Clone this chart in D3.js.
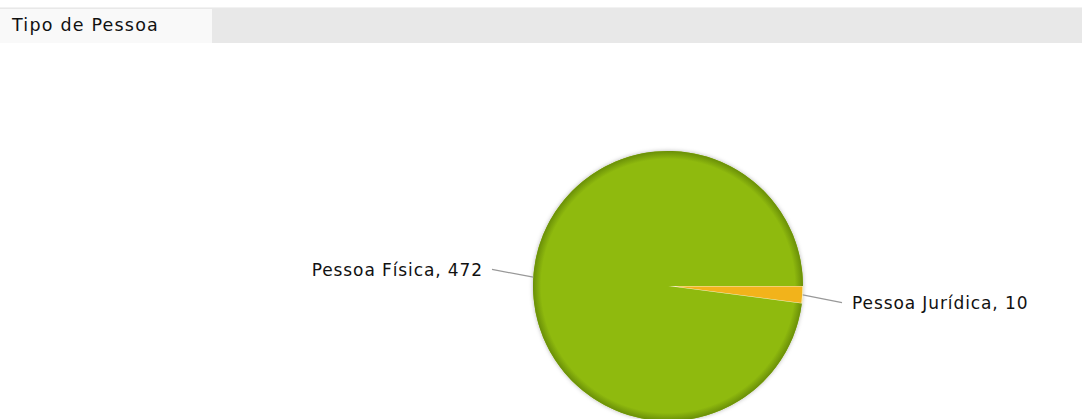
<!DOCTYPE html>
<html>
<head>
<meta charset="utf-8">
<script src="https://cdn.jsdelivr.net/npm/d3@7/dist/d3.min.js"></script>
<style>
  body { margin: 0; background: #fff; }
  svg { display: block; }
</style>
</head>
<body>
<svg id="chart" width="1082" height="419"></svg>
<script>
// data
var tabTitle = "Tipo de Pessoa";
var categories = ["Pessoa Jurídica", "Pessoa Física"];
var values = [10, 472];
var colors = ["#f2b31b", "#8fba0e"];

var svg = d3.select("#chart"),
    width = 1082, height = 419;

// tab strip
svg.append("rect").attr("x", 0).attr("y", 7).attr("width", width).attr("height", 36).attr("fill", "#e8e8e8");
svg.append("rect").attr("x", 0).attr("y", 7).attr("width", width).attr("height", 1).attr("fill", "#f2f2f2");
svg.append("rect").attr("x", 0).attr("y", 9).attr("width", 212).attr("height", 34).attr("fill", "#f9f9f9");
svg.append("text")
    .attr("x", 12).attr("y", 31)
    .attr("font-family", "DejaVu Sans, sans-serif")
    .attr("font-size", 17.5)
    .attr("letter-spacing", 1.2)
    .attr("fill", "#111")
    .text(tabTitle);

var cx = 668, cy = 286, r = 135;

var defs = svg.append("defs");
var grad = defs.append("radialGradient").attr("id", "rim")
    .attr("gradientUnits", "userSpaceOnUse")
    .attr("cx", 0).attr("cy", 0).attr("r", r);
grad.append("stop").attr("offset", "0.94").attr("stop-color", colors[1]);
grad.append("stop").attr("offset", "1").attr("stop-color", "#6a8f08");

var shadow = defs.append("filter").attr("id", "shadow")
    .attr("x", "-20%").attr("y", "-20%").attr("width", "140%").attr("height", "140%");
shadow.append("feDropShadow").attr("dx", 0).attr("dy", 0).attr("stdDeviation", 2)
    .attr("flood-color", "#000").attr("flood-opacity", 0.3);

var pie = d3.pie().sort(null)
    .startAngle(Math.PI / 2).endAngle(Math.PI / 2 + 2 * Math.PI);
var arcs = pie(values);
var arc = d3.arc().innerRadius(0).outerRadius(r);

var g = svg.append("g").attr("transform", "translate(" + cx + "," + cy + ")");

g.append("circle").attr("r", r).attr("fill", colors[1]).attr("filter", "url(#shadow)");

g.selectAll("path.slice")
    .data(arcs)
    .enter()
    .append("path")
    .attr("class", "slice")
    .attr("d", arc)
    .attr("fill", function(d, i){ return i == 1 ? "url(#rim)" : colors[i] })
    .attr("stroke", function(d, i){ return i == 1 ? "none" : "#f6f0c8" })
    .attr("stroke-width", 1.2)
    .attr("stroke-linejoin", "round");

// labels + connectors
arcs.forEach(function(d, i){
    var a = (d.startAngle + d.endAngle) / 2,
        sx = Math.sin(a), sy = -Math.cos(a),
        right = sx > 0,
        ly = (r + 120) * sy,
        lx = right ? r + 49 : -(r + 50),
        ex = right ? r + 39 : -(r + 41);

    g.append("path")
        .attr("d", "M" + (r * sx) + "," + (r * sy) + "L" + ex + "," + ly)
        .attr("fill", "none")
        .attr("stroke", "#999")
        .attr("stroke-width", 1.2);

    g.append("text")
        .attr("x", lx).attr("y", ly)
        .attr("dy", "0.36em")
        .attr("text-anchor", right ? "start" : "end")
        .attr("font-family", "DejaVu Sans, sans-serif")
        .attr("font-size", 17)
        .attr("letter-spacing", 0.9)
        .attr("fill", "#111")
        .text(categories[i] + ", " + values[i]);
});
</script>
</body>
</html>
